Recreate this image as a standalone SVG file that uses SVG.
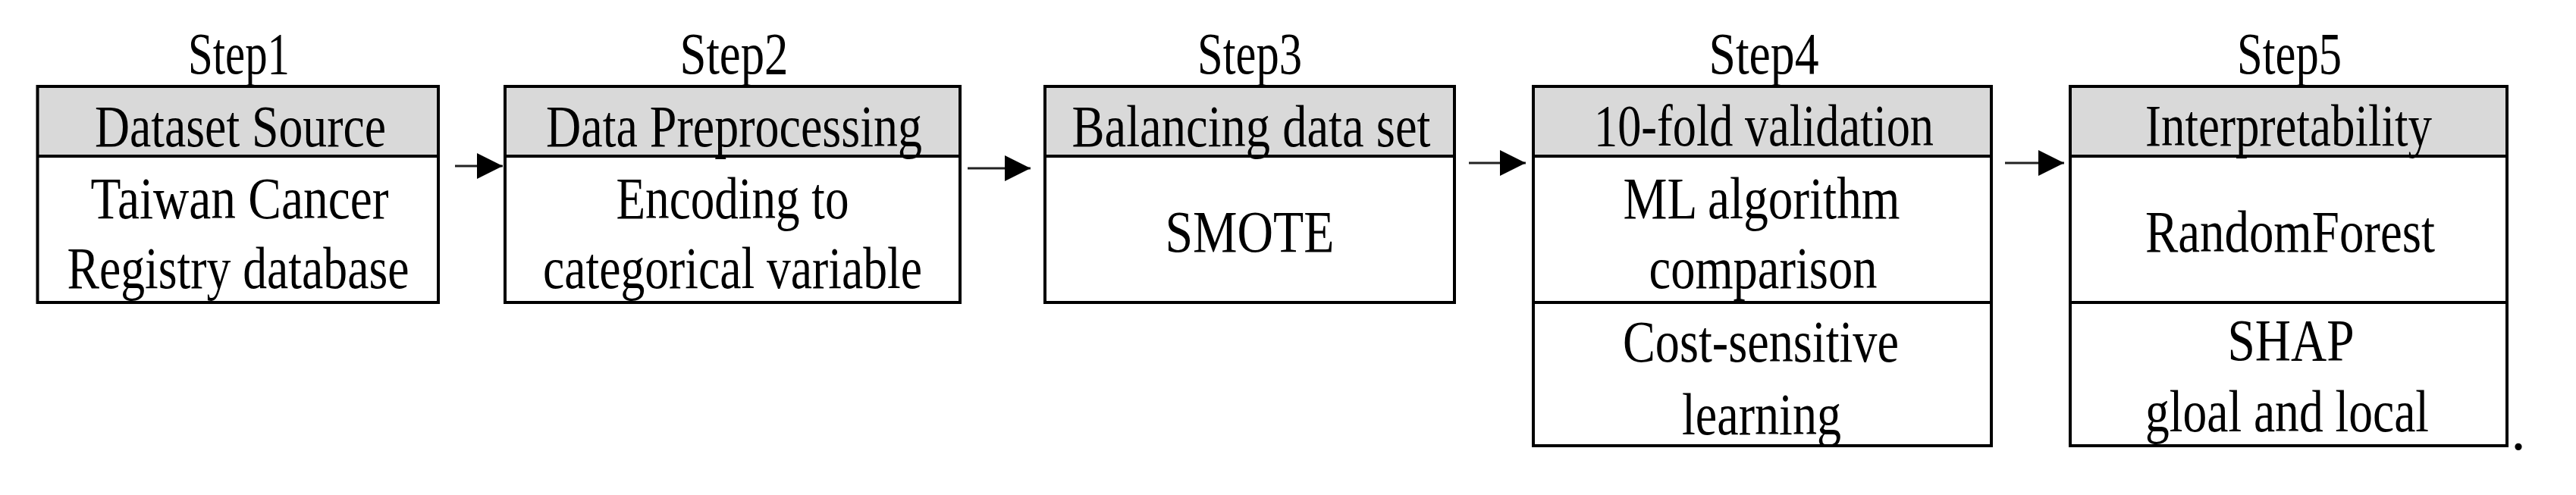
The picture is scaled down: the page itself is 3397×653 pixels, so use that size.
<svg xmlns="http://www.w3.org/2000/svg" width="3397" height="653" viewBox="0 0 3397 653">
<style>
.t{font-family:"Liberation Serif","Times New Roman",serif;font-size:78px;fill:#000;text-anchor:middle}
.hd{fill:#d9d9d9;stroke:none}
.bx{fill:none;stroke:#000;stroke-width:4}
.ln{stroke:#000;stroke-width:4}
.cn{stroke:#222;stroke-width:3;fill:none}
</style>
<defs>
<marker id="ah" markerUnits="userSpaceOnUse" markerWidth="36" markerHeight="36" refX="34" refY="17" orient="auto">
<path d="M0,0 L34,17 L0,34 Z" fill="#000"/>
</marker>
</defs>
<rect width="3397" height="653" fill="#fff"/>
<g id="step1">
<rect class="hd" x="49.5" y="114" width="528.5" height="92"/>
<rect class="bx" x="49.5" y="114" width="528.5" height="285"/>
<line class="ln" x1="49.5" y1="206" x2="578" y2="206"/>
<text class="t" x="315" y="97" textLength="134" lengthAdjust="spacingAndGlyphs">Step1</text>
<text class="t" x="317" y="193" textLength="384" lengthAdjust="spacingAndGlyphs">Dataset Source</text>
<text class="t" x="316" y="288" textLength="393" lengthAdjust="spacingAndGlyphs">Taiwan Cancer</text>
<text class="t" x="314" y="380" textLength="451" lengthAdjust="spacingAndGlyphs">Registry database</text>
</g>
<g id="step2">
<rect class="hd" x="666" y="114" width="600" height="92"/>
<rect class="bx" x="666" y="114" width="600" height="285"/>
<line class="ln" x1="666" y1="206" x2="1266" y2="206"/>
<text class="t" x="968" y="97" textLength="143" lengthAdjust="spacingAndGlyphs">Step2</text>
<text class="t" x="968" y="193" textLength="496" lengthAdjust="spacingAndGlyphs">Data Preprocessing</text>
<text class="t" x="966" y="288" textLength="307" lengthAdjust="spacingAndGlyphs">Encoding to</text>
<text class="t" x="966" y="380" textLength="500" lengthAdjust="spacingAndGlyphs">categorical variable</text>
</g>
<g id="step3">
<rect class="hd" x="1378" y="114" width="540" height="92"/>
<rect class="bx" x="1378" y="114" width="540" height="285"/>
<line class="ln" x1="1378" y1="206" x2="1918" y2="206"/>
<text class="t" x="1648" y="97" textLength="138" lengthAdjust="spacingAndGlyphs">Step3</text>
<text class="t" x="1650" y="193" textLength="473" lengthAdjust="spacingAndGlyphs">Balancing data set</text>
<text class="t" x="1648" y="332" textLength="223" lengthAdjust="spacingAndGlyphs">SMOTE</text>
</g>
<g id="step4">
<rect class="hd" x="2022" y="114" width="604" height="92"/>
<rect class="bx" x="2022" y="114" width="604" height="474"/>
<line class="ln" x1="2022" y1="206" x2="2626" y2="206"/>
<line class="ln" x1="2022" y1="399" x2="2626" y2="399"/>
<text class="t" x="2326" y="97" textLength="145" lengthAdjust="spacingAndGlyphs">Step4</text>
<text class="t" x="2326" y="192" textLength="448" lengthAdjust="spacingAndGlyphs">10-fold validation</text>
<text class="t" x="2323" y="288" textLength="365" lengthAdjust="spacingAndGlyphs">ML algorithm</text>
<text class="t" x="2325" y="380" textLength="301" lengthAdjust="spacingAndGlyphs">comparison</text>
<text class="t" x="2322" y="477" textLength="364" lengthAdjust="spacingAndGlyphs">Cost-sensitive</text>
<text class="t" x="2323" y="573" textLength="210" lengthAdjust="spacingAndGlyphs">learning</text>
</g>
<g id="step5">
<rect class="hd" x="2730" y="114" width="576" height="92"/>
<rect class="bx" x="2730" y="114" width="576" height="474"/>
<line class="ln" x1="2730" y1="206" x2="3306" y2="206"/>
<line class="ln" x1="2730" y1="399" x2="3306" y2="399"/>
<text class="t" x="3019" y="97" textLength="138" lengthAdjust="spacingAndGlyphs">Step5</text>
<text class="t" x="3018" y="192" textLength="378" lengthAdjust="spacingAndGlyphs">Interpretability</text>
<text class="t" x="3020" y="332" textLength="382" lengthAdjust="spacingAndGlyphs">RandomForest</text>
<text class="t" x="3021" y="475" textLength="167" lengthAdjust="spacingAndGlyphs">SHAP</text>
<text class="t" x="3016" y="569" textLength="374" lengthAdjust="spacingAndGlyphs">gloal and local</text>
<text class="t" x="3321" y="593">.</text>
</g>
<g id="connectors">
<line class="cn" x1="600" y1="219" x2="663" y2="219" marker-end="url(#ah)"/>
<line class="cn" x1="1276" y1="222" x2="1359" y2="222" marker-end="url(#ah)"/>
<line class="cn" x1="1937" y1="215" x2="2012" y2="215" marker-end="url(#ah)"/>
<line class="cn" x1="2644" y1="215" x2="2722" y2="215" marker-end="url(#ah)"/>
</g>
</svg>
